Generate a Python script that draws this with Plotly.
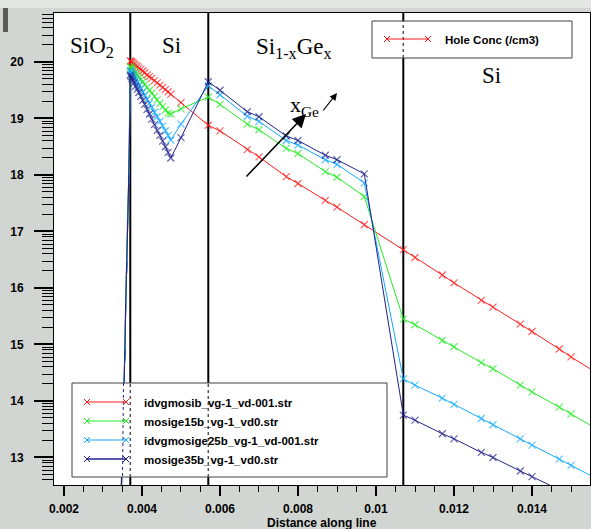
import plotly.graph_objects as go
import math

# ---------------- data ----------------
distance = [
    # oxide side
    0.00345, 0.00348, 0.00351, 0.00353, 0.00356, 0.00358, 0.00361, 0.00363, 0.00366, 0.00368,
    # Si channel
    0.00370, 0.00372, 0.00374, 0.00377, 0.00380, 0.00384, 0.00388, 0.00392, 0.00397, 0.00402,
    0.00407, 0.00413, 0.00419, 0.00425, 0.00432, 0.00439, 0.00446, 0.00453, 0.00460, 0.00467,
    0.00474, 0.00500, 0.00570,
    # SiGe
    0.0060, 0.0067, 0.0070, 0.0077, 0.0080, 0.0087, 0.0090, 0.0097,
    # Si substrate
    0.0107, 0.0110, 0.0117, 0.0120, 0.0127, 0.0130, 0.0137, 0.0140, 0.0147, 0.0150, 0.0157,
]

hole_mosib = [
    12.05, 12.75, 13.45, 14.2, 14.95, 15.75, 16.5, 17.25, 18.05, 18.85,
    20.02, 20.01, 20.00, 19.98, 19.96, 19.94, 19.92, 19.89, 19.87, 19.84,
    19.81, 19.77, 19.74, 19.71, 19.67, 19.63, 19.59, 19.55, 19.51, 19.47,
    19.43, 19.28, 18.88,
    18.78, 18.45, 18.32, 17.97, 17.85, 17.55, 17.43, 17.12,
    16.68, 16.54, 16.23, 16.09, 15.78, 15.66, 15.36, 15.23, 14.92, 14.78, 14.48,
]

hole_mosige15 = [
    11.98, 12.68, 13.38, 14.13, 14.88, 15.68, 16.43, 17.18, 17.98, 18.78,
    19.92, 19.90, 19.89, 19.86, 19.83, 19.80, 19.77, 19.73, 19.69, 19.65,
    19.60, 19.55, 19.50, 19.45, 19.39, 19.33, 19.27, 19.21, 19.15, 19.09,
    19.08, 19.17, 19.38,
    19.25, 18.90, 18.80, 18.47, 18.38, 18.06, 17.96, 17.62,
    15.45, 15.35, 15.07, 14.96, 14.68, 14.57, 14.28, 14.16, 13.89, 13.77, 13.49,
]

hole_mosige25 = [
    11.94, 12.64, 13.34, 14.09, 14.84, 15.64, 16.39, 17.14, 17.94, 18.74,
    19.85, 19.83, 19.80, 19.77, 19.73, 19.68, 19.64, 19.59, 19.53, 19.47,
    19.41, 19.34, 19.27, 19.20, 19.11, 19.03, 18.95, 18.87, 18.78, 18.70,
    18.62, 18.90, 19.58,
    19.42, 19.04, 18.95, 18.61, 18.53, 18.27, 18.19, 17.86,
    14.39, 14.28, 14.05, 13.94, 13.69, 13.58, 13.33, 13.22, 12.97, 12.86, 12.61,
]

hole_mosige35 = [
    11.90, 12.60, 13.30, 14.05, 14.80, 15.60, 16.35, 17.10, 17.90, 18.70,
    19.77, 19.74, 19.71, 19.67, 19.63, 19.57, 19.52, 19.46, 19.39, 19.32,
    19.25, 19.16, 19.08, 18.99, 18.89, 18.79, 18.70, 18.60, 18.50, 18.40,
    18.30, 18.66, 19.65,
    19.50, 19.12, 19.03, 18.69, 18.61, 18.35, 18.27, 18.02,
    13.75, 13.66, 13.42, 13.33, 13.09, 13.00, 12.76, 12.66, 12.42, 12.33, 12.10,
]

series_names = [
    "idvgmosib_vg-1_vd-001.str",
    "mosige15b_vg-1_vd0.str",
    "idvgmosige25b_vg-1_vd-001.str",
    "mosige35b_vg-1_vd0.str",
]
series_values = [hole_mosib, hole_mosige15, hole_mosige25, hole_mosige35]
series_colors = ["#ff1a1a", "#22ee22", "#12aaff", "#22228c"]

layer_bounds = [0.0037, 0.0057, 0.0107]
oxide_edge = 0.0037

x_ticks = [0.002, 0.004, 0.006, 0.008, 0.010, 0.012, 0.014]
x_tick_text = ["0.002", "0.004", "0.006", "0.008", "0.01", "0.012", "0.014"]
y_ticks = [13, 14, 15, 16, 17, 18, 19, 20]
y_tick_text = ["13", "14", "15", "16", "17", "18", "19", "20"]

# ---------------- layout geometry ----------------
W, H = 591, 529
L, R, T, B = 54, 590, 13, 485


def px(xp):
    return (xp - L) / (R - L)


def py(yp):
    return (B - yp) / (B - T)


fig = go.Figure()

for name, vals, col in zip(series_names, series_values, series_colors):
    symbols = ["line-ns" if d < oxide_edge else "x-thin" for d in distance]
    sizes = [8 if d < oxide_edge else 7 for d in distance]
    fig.add_trace(go.Scatter(
        x=distance, y=vals, mode="lines+markers", name=name,
        line=dict(color=col, width=1),
        marker=dict(symbol=symbols, size=sizes, color=col,
                    line=dict(color=col, width=1.2)),
        showlegend=False,
    ))

minor_y = []
for k in range(12, 21):
    for m in range(2, 10):
        minor_y.append(k + math.log10(m))

bold_font = dict(family="Liberation Sans, Arial, sans-serif", size=12, color="black", weight="bold")

fig.update_layout(
    width=W, height=H,
    margin=dict(l=L, r=W - R, t=T, b=H - B, pad=0),
    paper_bgcolor="#d2d6d2",
    plot_bgcolor="white",
    showlegend=False,
    xaxis=dict(
        range=[0.001744, 0.015487], showgrid=False, zeroline=False,
        showline=True, mirror=True, linecolor="black", linewidth=1,
        tickmode="array", tickvals=x_ticks, ticktext=x_tick_text,
        ticks="outside", ticklen=10, tickwidth=2, tickcolor="black",
        tickfont=bold_font, ticklabelstandoff=3, automargin=False,
        minor=dict(dtick=0.0005, tick0=0, ticks="outside", ticklen=6,
                   tickwidth=1, tickcolor="black", showgrid=False),
    ),
    yaxis=dict(
        range=[12.513, 20.867], showgrid=False, zeroline=False,
        showline=True, mirror=True, linecolor="black", linewidth=1,
        tickmode="array", tickvals=y_ticks, ticktext=y_tick_text,
        ticks="outside", ticklen=19, tickwidth=2, tickcolor="black",
        tickfont=bold_font, ticklabelstandoff=8, automargin=False,
        minor=dict(tickmode="array", tickvals=minor_y, ticks="outside",
                   ticklen=11, tickwidth=1, tickcolor="black", showgrid=False),
    ),
)

shapes = []
# top strip / window artifact
shapes.append(dict(type="rect", xref="paper", yref="paper", x0=px(0), x1=px(W), y0=py(8), y1=py(0),
                   fillcolor="#e4e6e4", line=dict(width=0), layer="below"))
shapes.append(dict(type="rect", xref="paper", yref="paper", x0=px(3), x1=px(8), y0=py(32), y1=py(8),
                   fillcolor="#5a5a5a", line=dict(width=0), layer="below"))

# region boundaries
for b in layer_bounds:
    shapes.append(dict(type="line", xref="x", yref="paper", x0=b, x1=b, y0=0, y1=1,
                       line=dict(color="black", width=2), layer="below"))


def xmark(cx, cy, col, s=3):
    return [
        dict(type="line", xref="paper", yref="paper", x0=px(cx - s), x1=px(cx + s),
             y0=py(cy - s), y1=py(cy + s), line=dict(color=col, width=1), layer="above"),
        dict(type="line", xref="paper", yref="paper", x0=px(cx - s), x1=px(cx + s),
             y0=py(cy + s), y1=py(cy - s), line=dict(color=col, width=1), layer="above"),
    ]


# legend boxes
for (x0, y0, x1, y1) in [(372, 21, 572, 58), (72, 383, 387, 477)]:
    shapes.append(dict(type="rect", xref="paper", yref="paper", x0=px(x0), x1=px(x1),
                       y0=py(y1), y1=py(y0), fillcolor="white",
                       line=dict(color="#404040", width=1), layer="above"))

# dotted lines seen through the legends
shapes.append(dict(type="line", xref="x", yref="paper", x0=layer_bounds[2], x1=layer_bounds[2],
                   y0=py(58), y1=py(21), line=dict(color="#555", width=1.5, dash="dot"), layer="above"))
for b in layer_bounds[:2]:
    shapes.append(dict(type="line", xref="x", yref="paper", x0=b, x1=b,
                       y0=py(477), y1=py(383), line=dict(color="#555", width=1.5, dash="dot"), layer="above"))
shapes.append(dict(type="line", xref="paper", yref="paper", x0=px(123.5), x1=px(122.5),
                   y0=py(383), y1=py(477), line=dict(color="#22228c", width=1, dash="dot"), layer="above"))

# legend 1 sample
shapes.append(dict(type="line", xref="paper", yref="paper", x0=px(387), x1=px(428),
                   y0=py(39), y1=py(39), line=dict(color=series_colors[0], width=1), layer="above"))
shapes += xmark(387, 39, series_colors[0])
shapes += xmark(428, 39, series_colors[0])

legend_font = dict(family="Liberation Sans, Arial, sans-serif", size=11.5, color="black", weight="bold")

annotations = []
annotations.append(dict(xref="paper", yref="paper", x=px(443), y=py(40), xanchor="left", yanchor="middle",
                        text="Hole Conc (/cm3)", showarrow=False, font=legend_font))

# legend 2 samples
for i, (name, col) in enumerate(zip(series_names, series_colors)):
    yy = 402 + i * 19
    shapes.append(dict(type="line", xref="paper", yref="paper", x0=px(87), x1=px(126),
                       y0=py(yy), y1=py(yy), line=dict(color=col, width=1.5 if i == 3 else 1), layer="above"))
    shapes += xmark(87, yy, col)
    shapes += xmark(126, yy, col)
    annotations.append(dict(xref="paper", yref="paper", x=px(142), y=py(yy + 1), xanchor="left", yanchor="middle",
                            text=name, showarrow=False, font=legend_font))

# region labels
serif = dict(family="Liberation Serif, Times New Roman, serif", size=23, color="black")
for text, cx, cy in [("SiO<sub>2</sub>", 92, 47), ("Si", 171, 45), ("Si<sub>1-x</sub>Ge<sub>x</sub>", 294, 48),
                     ("Si", 491, 75)]:
    annotations.append(dict(xref="paper", yref="paper", x=px(cx), y=py(cy), xanchor="center", yanchor="middle",
                            text=text, showarrow=False, font=serif))
annotations.append(dict(xref="paper", yref="paper", x=px(304), y=py(106), xanchor="center", yanchor="middle",
                        text="x<sub>Ge</sub>", showarrow=False,
                        font=dict(family="Liberation Serif, Times New Roman, serif", size=22, color="black")))

# arrows
annotations.append(dict(xref="paper", yref="paper", x=px(306), y=py(114), ax=-61, ay=64, text="",
                        showarrow=True, arrowhead=2, arrowsize=1.8, arrowwidth=1.5, arrowcolor="black",
                        standoff=0, startstandoff=0))
annotations.append(dict(xref="paper", yref="paper", x=px(337), y=py(93), ax=-15, ay=19, text="",
                        showarrow=True, arrowhead=2, arrowsize=1.2, arrowwidth=1.2, arrowcolor="black",
                        standoff=0, startstandoff=0))

# axis title
annotations.append(dict(xref="paper", yref="paper", x=px(322), y=py(523), xanchor="center", yanchor="middle",
                        text="Distance along line", showarrow=False,
                        font=dict(family="Liberation Sans, Arial, sans-serif", size=12, color="black", weight="bold")))

fig.update_layout(shapes=shapes, annotations=annotations)
fig.write_html(
    "out.html",
    config={"displayModeBar": False},
    post_script="document.body.style.margin='0';document.body.style.padding='0';",
)
